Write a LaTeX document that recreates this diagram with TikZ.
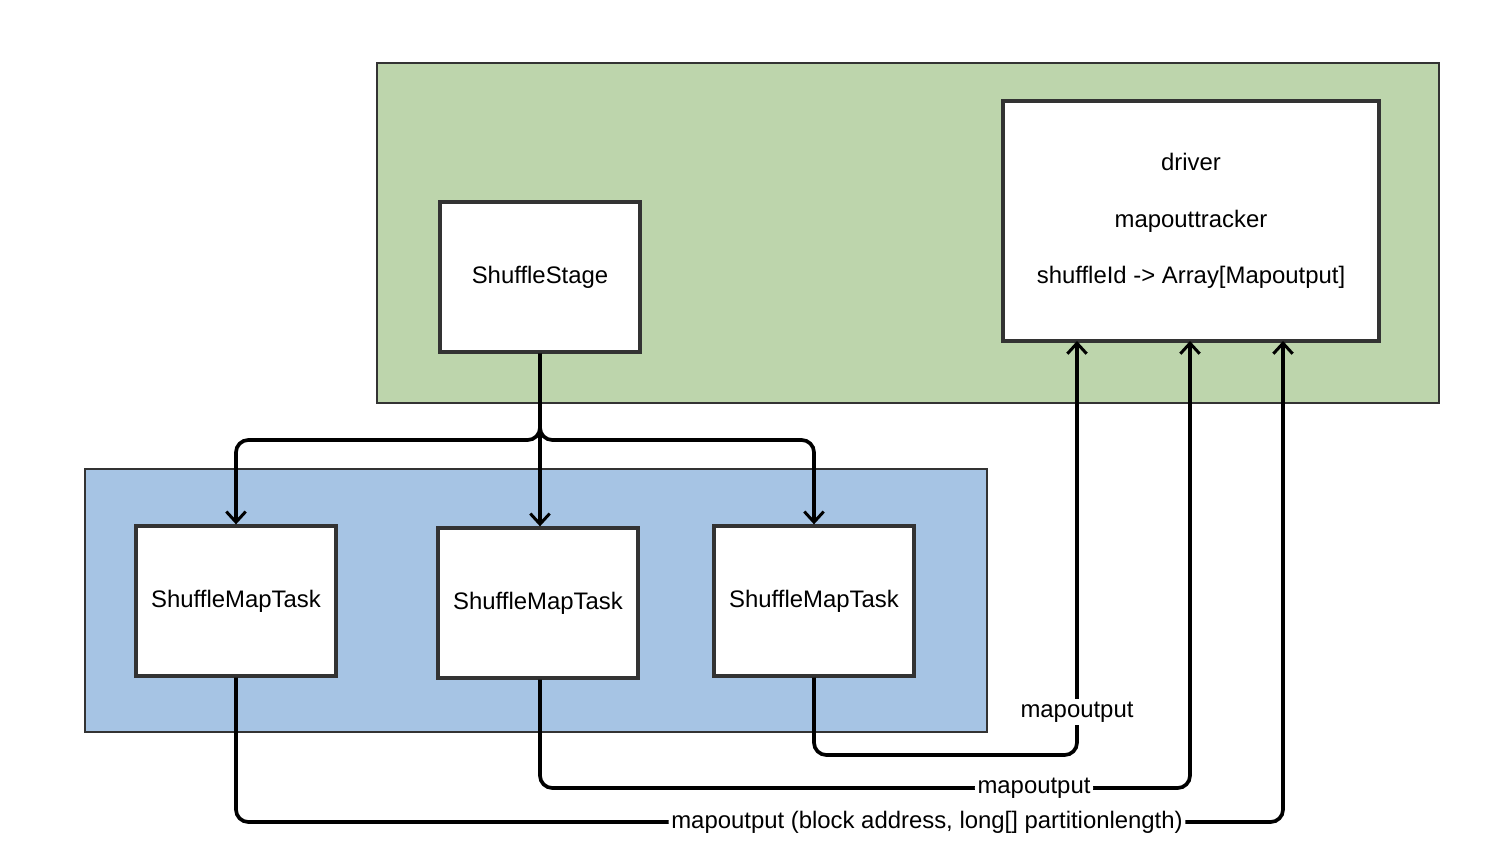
\documentclass[tikz,border=0pt]{standalone}
\usepackage{fontspec}
\setmainfont{Liberation Sans}
\usetikzlibrary{arrows.meta}

\definecolor{driver area}{HTML}{BDD5AC}
\definecolor{task area}{HTML}{A6C4E4}
\definecolor{box edge}{HTML}{333333}
\tikzset{area/.style={draw=box edge, line width=0.9pt},
    box/.style={draw=box edge, line width=1.9pt, fill=white, minimum width=4cm,
        minimum height=3cm, font=\fontsize{13.6}{16}\selectfont},
    link/.style={draw=black, line width=2.1pt, rounded corners=7pt,
        -{Straight Barb[length=6pt,width=11pt,line width=1.7pt]}},
    lbl/.style={fill=white, inner sep=1.5pt, font=\fontsize{13.6}{16}\selectfont}}

\begin{document}
\begin{tikzpicture}[x=0.02cm, y=-0.02cm]
    \useasboundingbox (0,0) rectangle (1502,868);
    % background areas
    \draw[area, fill=driver area] (377,63) rectangle (1439,403);
    \draw[area, fill=task area] (85,469) rectangle (987,732);

    \node[box] (stage) at (540,277) {ShuffleStage};
    \node[box, minimum width=7.52cm, minimum height=4.8cm, align=center,
          font=\fontsize{13.6}{32}\selectfont] (driver) at (1191,221)
        {driver\\mapouttracker\\shuffleId -> Array[Mapoutput]};
    \node[box] (task1) at (236,601) {ShuffleMapTask};
    \node[box] (task2) at (538,603) {ShuffleMapTask};
    \node[box] (task3) at (814,601) {ShuffleMapTask};

    \coordinate (in1) at (1077,341);
    \coordinate (in2) at (1190,341);
    \coordinate (in3) at (1283,341);

    % stage to tasks
    \draw[link] (stage.south) -- (540,440) -| (task1.north);
    \draw[link] (stage.south) -- (task2.north -| stage.south);
    \draw[link] (stage.south) -- (540,440) -| (task3.north);

    % tasks report back to the tracker
    \draw[link] (task3.south) |- (1077,755) -- node[lbl, pos=0.104] {mapoutput} (in1);
    \draw[link] (task2.south -| stage.south) |- node[lbl, pos=0.88] {mapoutput} (1190,788) -- (in2);
    \draw[link] (task1.south) |- node[lbl, pos=0.83]
        {mapoutput (block address, long[] partitionlength)} (1283,822) -- (in3);
\end{tikzpicture}
\end{document}
